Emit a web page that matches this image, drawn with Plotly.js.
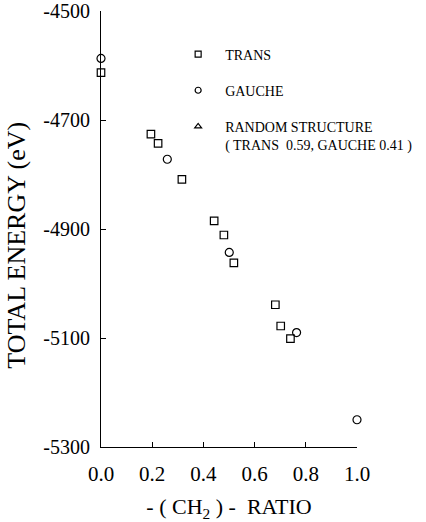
<!DOCTYPE html>
<html><head><meta charset="utf-8">
<script src="https://cdn.plot.ly/plotly-3.0.1.min.js"></script>
<style>html,body{margin:0;padding:0;background:#fff}</style>
</head><body>
<div id="chart" style="width:426px;height:522px"></div>
<script>
const transRatio = [0, 0.195, 0.223, 0.316, 0.442, 0.480, 0.519, 0.681, 0.702, 0.740];
const transEnergy = [-4613, -4726, -4743, -4809, -4885, -4911, -4962, -5039, -5078, -5101];
const gaucheRatio = [0, 0.259, 0.501, 0.764, 1.0];
const gaucheEnergy = [-4587, -4772, -4943, -5090, -5250];
const randomRatio = [null];
const randomEnergy = [null];
const xTickVals = [0, 0.2, 0.4, 0.6, 0.8, 1.0];
const xTickText = ['0.0', '0.2', '0.4', '0.6', '0.8', '1.0'];
const yTickVals = [-5300, -5100, -4900, -4700, -4500];
const yTickText = ['-5300', '-5100', '-4900', '-4700', '-4500'];
const seriesNames = ['TRANS', 'GAUCHE', 'RANDOM STRUCTURE<br>( TRANS  0.59, GAUCHE 0.41 )'];

const FONT = 'Liberation Serif, Times New Roman, serif';
const mk = (symbol, size) => ({symbol: symbol, size: size, color: '#000', line: {color: '#000', width: 1.2}});

const traces = [
  {x: transRatio, y: transEnergy, type: 'scatter', mode: 'markers', marker: mk('square-open', 7.5), showlegend: false, cliponaxis: false},
  {x: gaucheRatio, y: gaucheEnergy, type: 'scatter', mode: 'markers', marker: mk('circle-open', 8), showlegend: false, cliponaxis: false},
  {x: [null], y: [null], type: 'scatter', mode: 'markers', name: seriesNames[0], legendgroup: 'a', marker: mk('square-open', 6)},
  {x: [null], y: [null], type: 'scatter', mode: 'markers', name: seriesNames[1], legendgroup: 'b', marker: mk('circle-open', 6)},
  {x: randomRatio, y: randomEnergy, type: 'scatter', mode: 'markers', name: seriesNames[2], legendgroup: 'c', marker: mk('triangle-up-open', 6)}
];

const layout = {
  width: 426, height: 522,
  margin: {l: 101, r: 69, t: 11, b: 75, pad: 0, autoexpand: false},
  paper_bgcolor: '#fff', plot_bgcolor: '#fff',
  font: {family: FONT, color: '#000', size: 20},
  showlegend: true,
  legend: {
    x: 0.274, y: 0.937, xanchor: 'left', yanchor: 'top',
    font: {family: FONT, size: 14, color: '#000'},
    traceorder: 'grouped', tracegroupgap: 15, valign: 'top',
    itemwidth: 44, bgcolor: 'rgba(0,0,0,0)', borderwidth: 0
  },
  xaxis: {
    range: [0, 1.0], tickvals: xTickVals, ticktext: xTickText,
    ticks: 'inside', ticklen: 5, tickcolor: '#000', tickwidth: 1,
    showline: true, linecolor: '#000', linewidth: 1, mirror: false,
    showgrid: false, zeroline: false,
    tickfont: {family: FONT, size: 21, color: '#000'},
    ticklabelstandoff: 8,
    title: {text: '- ( CH<sub>2</sub> ) -  RATIO', font: {family: FONT, size: 22, color: '#000'}, standoff: 14}
  },
  yaxis: {
    range: [-5300, -4500], tickvals: yTickVals, ticktext: yTickText,
    ticks: 'inside', ticklen: 5, tickcolor: '#000', tickwidth: 1,
    showline: true, linecolor: '#000', linewidth: 1, mirror: false,
    showgrid: false, zeroline: false,
    tickfont: {family: FONT, size: 20, color: '#000'},
    ticklabelstandoff: 6,
    title: {text: 'TOTAL ENERGY (eV)\u00a0\u00a0\u00a0\u00a0\u00a0\u200b', font: {family: FONT, size: 26, color: '#000'}, standoff: 10}
  }
};

Plotly.newPlot('chart', traces, layout, {displayModeBar: false, staticPlot: true});
</script>
</body></html>
